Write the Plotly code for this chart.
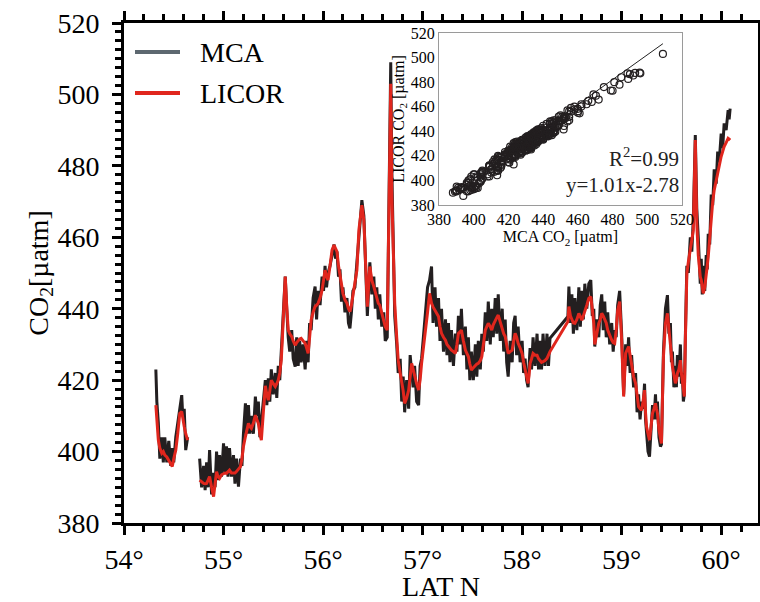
import plotly.graph_objects as go

# ---------------- data ----------------
lat = [
    54.32, 54.33, 54.345, 54.36, 54.38, 54.395, 54.41, 54.43, 54.45, 54.47,
    54.485, 54.50, 54.52, 54.54, 54.56, 54.58, 54.59, 54.605, 54.62, 54.64,
    None,
    54.76, 54.78, 54.80, 54.815, 54.83, 54.845, 54.86, 54.88, 54.90, 54.915,
    54.93, 54.945, 54.96, 54.98, 55.00, 55.015, 55.03, 55.045, 55.06, 55.08,
    55.10, 55.115, 55.13, 55.15, 55.17, 55.185, 55.20, 55.22, 55.235, 55.25,
    55.265, 55.28, 55.30, 55.32, 55.335, 55.35, 55.365, 55.38, 55.40, 55.42,
    55.435, 55.45, 55.465, 55.48, 55.50, 55.52, 55.535, 55.55, 55.565, 55.58,
    55.59, 55.60, 55.62, 55.635, 55.65, 55.665, 55.685, 55.70, 55.72, 55.735,
    55.75, 55.765, 55.78, 55.80, 55.82, 55.835, 55.85, 55.865, 55.88, 55.90,
    55.92, 55.935, 55.95, 55.97, 55.99, 56.005, 56.02, 56.035, 56.05, 56.07,
    56.09, 56.11, 56.125, 56.14, 56.155, 56.17, 56.185, 56.20, 56.22, 56.24,
    56.255, 56.27, 56.285, 56.30, 56.32, 56.34, 56.36, 56.39, 56.41, 56.43,
    56.445, 56.47, 56.49, 56.51, 56.525, 56.54, 56.555, 56.57, 56.59, 56.61,
    56.625, 56.645, 56.66, 56.68, 56.69, 56.705, 56.72, 56.74, 56.755, 56.775,
    56.79, 56.805, 56.82, 56.84, 56.86, 56.875, 56.89, 56.905, 56.92, 56.94,
    56.96, 56.975, 56.99, 57.01, 57.03, 57.05, 57.07, 57.09, 57.105, 57.125,
    57.14, 57.16, 57.175, 57.19, 57.21, 57.23, 57.245, 57.26, 57.275, 57.29,
    57.31, 57.33, 57.345, 57.36, 57.375, 57.39, 57.41, 57.43, 57.445, 57.46,
    57.475, 57.49, 57.51, 57.53, 57.545, 57.56, 57.58, 57.595, 57.61, 57.63,
    57.645, 57.66, 57.68, 57.695, 57.71, 57.73, 57.745, 57.76, 57.78, 57.80,
    57.815, 57.83, 57.845, 57.86, 57.88, 57.90, 57.915, 57.93, 57.945, 57.96,
    57.98, 58.00, 58.015, 58.03, 58.045, 58.06, 58.07, 58.08, 58.095, 58.11,
    58.13, 58.15, 58.165, 58.18, 58.195, 58.21, 58.23, 58.25, 58.265, 58.28,
    58.46, 58.47, 58.485, 58.50, 58.515, 58.53, 58.55, 58.57, 58.585, 58.60,
    58.615, 58.63, 58.65, 58.67, 58.69, 58.705, 58.72, 58.73, 58.75, 58.77,
    58.785, 58.80, 58.815, 58.83, 58.845, 58.86, 58.88, 58.90, 58.915, 58.93,
    58.945, 58.96, 58.98, 59.00, 59.02, 59.04, 59.055, 59.07, 59.085, 59.10,
    59.12, 59.14, 59.155, 59.17, 59.185, 59.20, 59.215, 59.23, 59.24, 59.25,
    59.265, 59.28, 59.295, 59.31, 59.325, 59.34, 59.35, 59.36, 59.375, 59.39,
    59.40, 59.42, 59.44, 59.46, 59.475, 59.49, 59.50, 59.51, 59.525, 59.54,
    59.55, 59.56, 59.575, 59.59, 59.60, 59.61, 59.62, 59.63, 59.64, 59.655,
    59.67, 59.69, 59.705, 59.72, 59.74, 59.755, 59.77, 59.78, 59.79, 59.80,
    59.81, 59.82, 59.835, 59.85, 59.86, 59.87, 59.885, 59.90, 59.915, 59.93,
    59.95, 59.965, 59.98, 60.00, 60.015, 60.03, 60.05, 60.07, 60.08, 60.09,
]

licor = [
    413, 408, 403.2, 401, 399.5, 400, 399, 398.5, 397.6, 396.5,
    395.8, 398, 400.4, 405, 410.7, 411.2, 409, 407, 405, 403.2,
    None,
    392, 391.5, 391.1, 391, 391.1, 392, 393, 390, 387.4, 391,
    394.4, 393, 392.5, 393.5, 393.9, 394, 393.9, 394.5, 394.8, 394,
    393.9, 394, 394.4, 395, 395.8, 398, 401.4, 404.2, 406, 407.9,
    407, 406.5, 408, 410.2, 409, 407.9, 405, 403.2, 411, 418.4,
    416, 414.4, 417, 420, 419, 418.2, 419, 420, 422, 425.6,
    431, 438.7, 449, 440.6, 434, 433, 432.2, 431, 429.8, 430.5,
    431.2, 431.5, 431.7, 431, 430.3, 429, 427.5, 432, 436.8, 439,
    440.6, 441, 441.5, 443, 445.2, 448, 450.8, 449, 448, 452,
    456.4, 457.8, 457, 456, 452, 449, 446, 444.3, 442.5, 441.5,
    440, 439.2, 441, 443.4, 447, 450.8, 462, 469, 464.8, 448,
    440.6, 451.8, 448, 446.2, 444.5, 443.4, 441.5, 441, 439, 436.8,
    435, 434, 460.2, 503, 473, 458.3, 441.5, 432, 425.6, 422,
    420, 417, 413.5, 415, 417.2, 421, 424.7, 423, 421, 419,
    417.2, 420, 424.7, 429, 434, 439, 444.3, 441.5, 440.5, 439.6,
    438.7, 437.8, 435, 433.1, 432, 431.2, 430, 429.4, 429, 428.4,
    428, 427.5, 430, 433.1, 433.5, 434, 431, 428.4, 427.5, 426.6,
    424.5, 422.8, 423.5, 424.2, 424.5, 424.7, 425.5, 426.6, 430, 434,
    435, 435.9, 435, 434, 435.5, 436.8, 437.5, 438.2, 436, 434,
    433, 432.2, 430, 427.5, 428, 428.4, 431, 433.1, 432, 430.3,
    429, 427.5, 425, 422.8, 420.5, 419.1, 421.5, 424.7, 426, 427.5,
    427, 427, 426, 425.6, 425, 425.2, 425.5, 426.1, 427, 428,
    436.4, 440.6, 438, 436.8, 436, 435.9, 437, 438.7, 437.5, 436.8,
    438, 439.6, 441, 442.9, 443.4, 440, 435.9, 430, 433, 435.9,
    437, 438.7, 438, 437, 436, 434, 432.5, 431.2, 430.5, 430.3,
    434, 439.6, 442, 431.2, 415.4, 427.5, 428.5, 429.4, 427, 423.8,
    421, 419.1, 415, 412.6, 412, 411.6, 414, 417.2, 411, 407,
    405, 403.2, 407, 410.7, 412, 413.5, 412, 410.7, 406, 403.2,
    402.3, 426.6, 435.9, 438.7, 435, 431.2, 427, 423.8, 421, 419.1,
    420, 421.9, 423, 425.6, 422, 419.1, 417, 415.4, 431, 449.9,
    453, 456.4, 459, 462, 487.2, 463.9, 455, 451.8, 449, 448,
    446, 444.3, 446, 449, 452, 454.6, 460, 465.8, 470, 473.2,
    476, 477.9, 480, 482.6, 484, 485.4, 486.5, 487.7, 487.5, 487.2,
]

mca = [
    423, 414, 408, 398, 404, 397, 404, 397, 403, 396,
    401, 397, 404, 408, 413, 415.8, 410, 412, 400.4, 404,
    None,
    398, 390, 396, 389.2, 397, 390, 400.4, 388, 394, 390,
    400, 392, 399, 393, 402.3, 394, 401.5, 393, 401, 393,
    399, 391, 398, 390.2, 398, 396, 405, 413.5, 405, 413,
    405, 410, 405, 415.4, 410, 414, 404, 409, 414, 420,
    413, 420.5, 414, 423, 416, 422, 415, 424, 420, 427,
    432, 438, 449, 440, 432, 428, 434, 426, 423.8, 432,
    424, 431, 425, 430, 423, 431, 425, 436, 434, 443,
    446.2, 437, 445, 441, 449, 445, 452, 446, 450, 452,
    455, 458, 454, 456, 449, 451, 442, 446, 439, 443,
    436, 434.5, 439, 445, 446, 453, 462, 470.4, 466, 449,
    438, 453, 444, 449, 440, 446, 437, 444, 435, 439,
    431, 432, 462, 509, 480, 460, 438, 430, 422, 426,
    414, 421, 411, 420, 412, 427, 423, 418, 424, 414,
    413, 424, 426, 432, 438, 446, 448, 451.8, 436, 446,
    435, 443, 431, 440, 428, 437, 427, 436, 425, 434,
    424, 433, 428, 438, 430, 440, 427, 435, 423, 432,
    420, 428, 420, 430, 421, 431, 423, 433, 428, 439,
    431, 442, 430, 440, 432, 443, 433, 444, 431, 440,
    428, 437, 425, 421, 431, 425, 436, 438, 427, 435,
    425, 431, 422, 426, 420, 418, 424, 429, 423, 432,
    424, 433, 423, 431, 423, 433, 424, 433, 424, 431.7,
    437.8, 446.2, 436, 444, 433, 443, 434, 446, 435, 445,
    437, 447, 440, 447, 448, 438, 440, 429.4, 437, 432,
    441, 444, 434, 442, 432, 439, 430, 436, 428, 434,
    432, 441, 445, 433, 416, 430, 424, 432, 422, 427,
    418, 422, 411, 416, 409, 414, 412, 419, 409, 405,
    400, 398.6, 405, 413, 409, 416, 409, 414, 404, 401.4,
    402, 428, 440, 443.8, 433, 436, 425, 428, 418, 424,
    418, 427, 421, 430, 419, 422, 414, 416, 432, 452,
    450, 460, 456, 465, 488.6, 468, 460, 455, 447, 454,
    444, 452, 445, 455, 451, 461, 458, 472, 469, 479,
    475, 484, 481, 489, 485, 491.9, 490, 495.6, 493, 496,
]

x_ticks = [54, 55, 56, 57, 58, 59, 60]
x_tick_labels = ["54°", "55°", "56°", "57°", "58°", "59°", "60°"]
y_ticks = [380, 400, 420, 440, 460, 480, 500, 520]
y_tick_labels = ["380", "400", "420", "440", "460", "480", "500", "520"]
inset_ticks = [380, 400, 420, 440, 460, 480, 500, 520]
fit_slope, fit_intercept = 1.01, -2.78
r2_text = "R<sup>2</sup>=0.99"
eq_text = "y=1.01x-2.78"

# ---------------- figure ----------------
FONT = "Liberation Serif"
BLACK = "#231f20"
RED = "#e0261d"
LEG_GRAY = "#5d6870"

fig = go.Figure()

fig.add_trace(go.Scatter(x=lat, y=mca, mode="lines", name="MCA",
                         line=dict(color=BLACK, width=3), showlegend=False,
                         connectgaps=False))
fig.add_trace(go.Scatter(x=lat, y=licor, mode="lines", name="LICOR",
                         line=dict(color=RED, width=3), showlegend=False,
                         connectgaps=False))

# inset scatter: MCA vs LICOR
pairs = [(m, l) for m, l in zip(mca, licor) if m is not None and l is not None]
sx = [p[0] for p in pairs]
sy = [p[1] for p in pairs]
fx = [min(sx), max(sx)]
fy = [fit_slope * v + fit_intercept for v in fx]
fig.add_trace(go.Scatter(x=fx, y=fy, mode="lines", xaxis="x2", yaxis="y2",
                         line=dict(color="#222", width=1), showlegend=False))
fig.add_trace(go.Scatter(x=sx, y=sy, mode="markers", xaxis="x2", yaxis="y2",
                         marker=dict(symbol="circle-open", size=7,
                                     color=BLACK, line=dict(width=1.2)),
                         showlegend=False))

L, R, T, B = 124, 2, 23, 79
W, H = 760, 602
pw = W - L - R
ph = H - T - B

def px(xp):
    return (xp - L) / pw

def py(yp):
    return (H - B - yp) / ph

axis_common = dict(showline=True, linewidth=3, linecolor="black",
                   ticks="outside", ticklen=9, tickwidth=3, tickcolor="black",
                   mirror="ticks", showgrid=False, zeroline=False,
                   automargin=False,
                   tickfont=dict(family=FONT, size=28, color="black"))

inset_common = dict(range=[380, 520], tickvals=inset_ticks, showline=True,
                    linecolor="#9a9a9a", linewidth=1, mirror=True, ticks="",
                    showgrid=False, zeroline=False, automargin=False,
                    tickfont=dict(family=FONT, size=16, color="black"))

fig.update_layout(
    width=W, height=H,
    margin=dict(l=L, r=R, t=T, b=B, autoexpand=False),
    paper_bgcolor="white", plot_bgcolor="white",
    font=dict(family=FONT, color="black"),
    xaxis=dict(range=[54, 60.37], tickvals=x_ticks, ticktext=x_tick_labels,
               minor=dict(dtick=0.2, ticks="outside", ticklen=6, tickwidth=3,
                          tickcolor="black"),
               title=dict(text="LAT N", font=dict(family=FONT, size=28),
                          standoff=9),
               **axis_common),
    yaxis=dict(range=[380, 520], tickvals=y_ticks,
               ticktext=[t + "\u00a0" for t in y_tick_labels],
               minor=dict(dtick=2.5, ticks="outside", ticklen=6, tickwidth=3,
                          tickcolor="black"),
               title=dict(text="CO<sub>2</sub>[µatm]",
                          font=dict(family=FONT, size=28), standoff=0),
               **axis_common),
    xaxis2=dict(domain=[px(439), px(682)], anchor="y2",
                title=dict(text="MCA CO<sub>2</sub> [µatm]",
                           font=dict(family=FONT, size=16), standoff=2),
                **inset_common),
    yaxis2=dict(domain=[py(205), py(33)], anchor="x2",
                title=dict(text="LICOR CO<sub>2</sub> [µatm]",
                           font=dict(family=FONT, size=16), standoff=2),
                **inset_common),
)

# inset background (white box behind the inset axes)
fig.add_shape(type="rect", xref="paper", yref="paper",
              x0=px(439), x1=px(682), y0=py(205), y1=py(33),
              fillcolor="white", line=dict(width=0), layer="below")

# legend (manual)
for color, label, ypx in [(LEG_GRAY, "MCA", 52), (RED, "LICOR", 93)]:
    fig.add_shape(type="line", xref="paper", yref="paper",
                  x0=px(135), x1=px(180), y0=py(ypx), y1=py(ypx),
                  line=dict(color=color, width=4))
    fig.add_annotation(x=px(198), y=py(ypx), xref="paper", yref="paper",
                       text=label, showarrow=False, xanchor="left",
                       yanchor="middle",
                       font=dict(family=FONT, size=28, color="black"))

# inset statistics
fig.add_annotation(x=px(681), y=py(157), xref="paper", yref="paper",
                   text=r2_text, showarrow=False, xanchor="right",
                   yanchor="middle", font=dict(family=FONT, size=21, color="#222"))
fig.add_annotation(x=px(681), y=py(185), xref="paper", yref="paper",
                   text=eq_text, showarrow=False, xanchor="right",
                   yanchor="middle", font=dict(family=FONT, size=21, color="#222"))

fig.write_html("out.html",
               config={"displayModeBar": False},
               post_script="document.body.style.margin='0px';"
                           "document.body.style.overflow='hidden';")
